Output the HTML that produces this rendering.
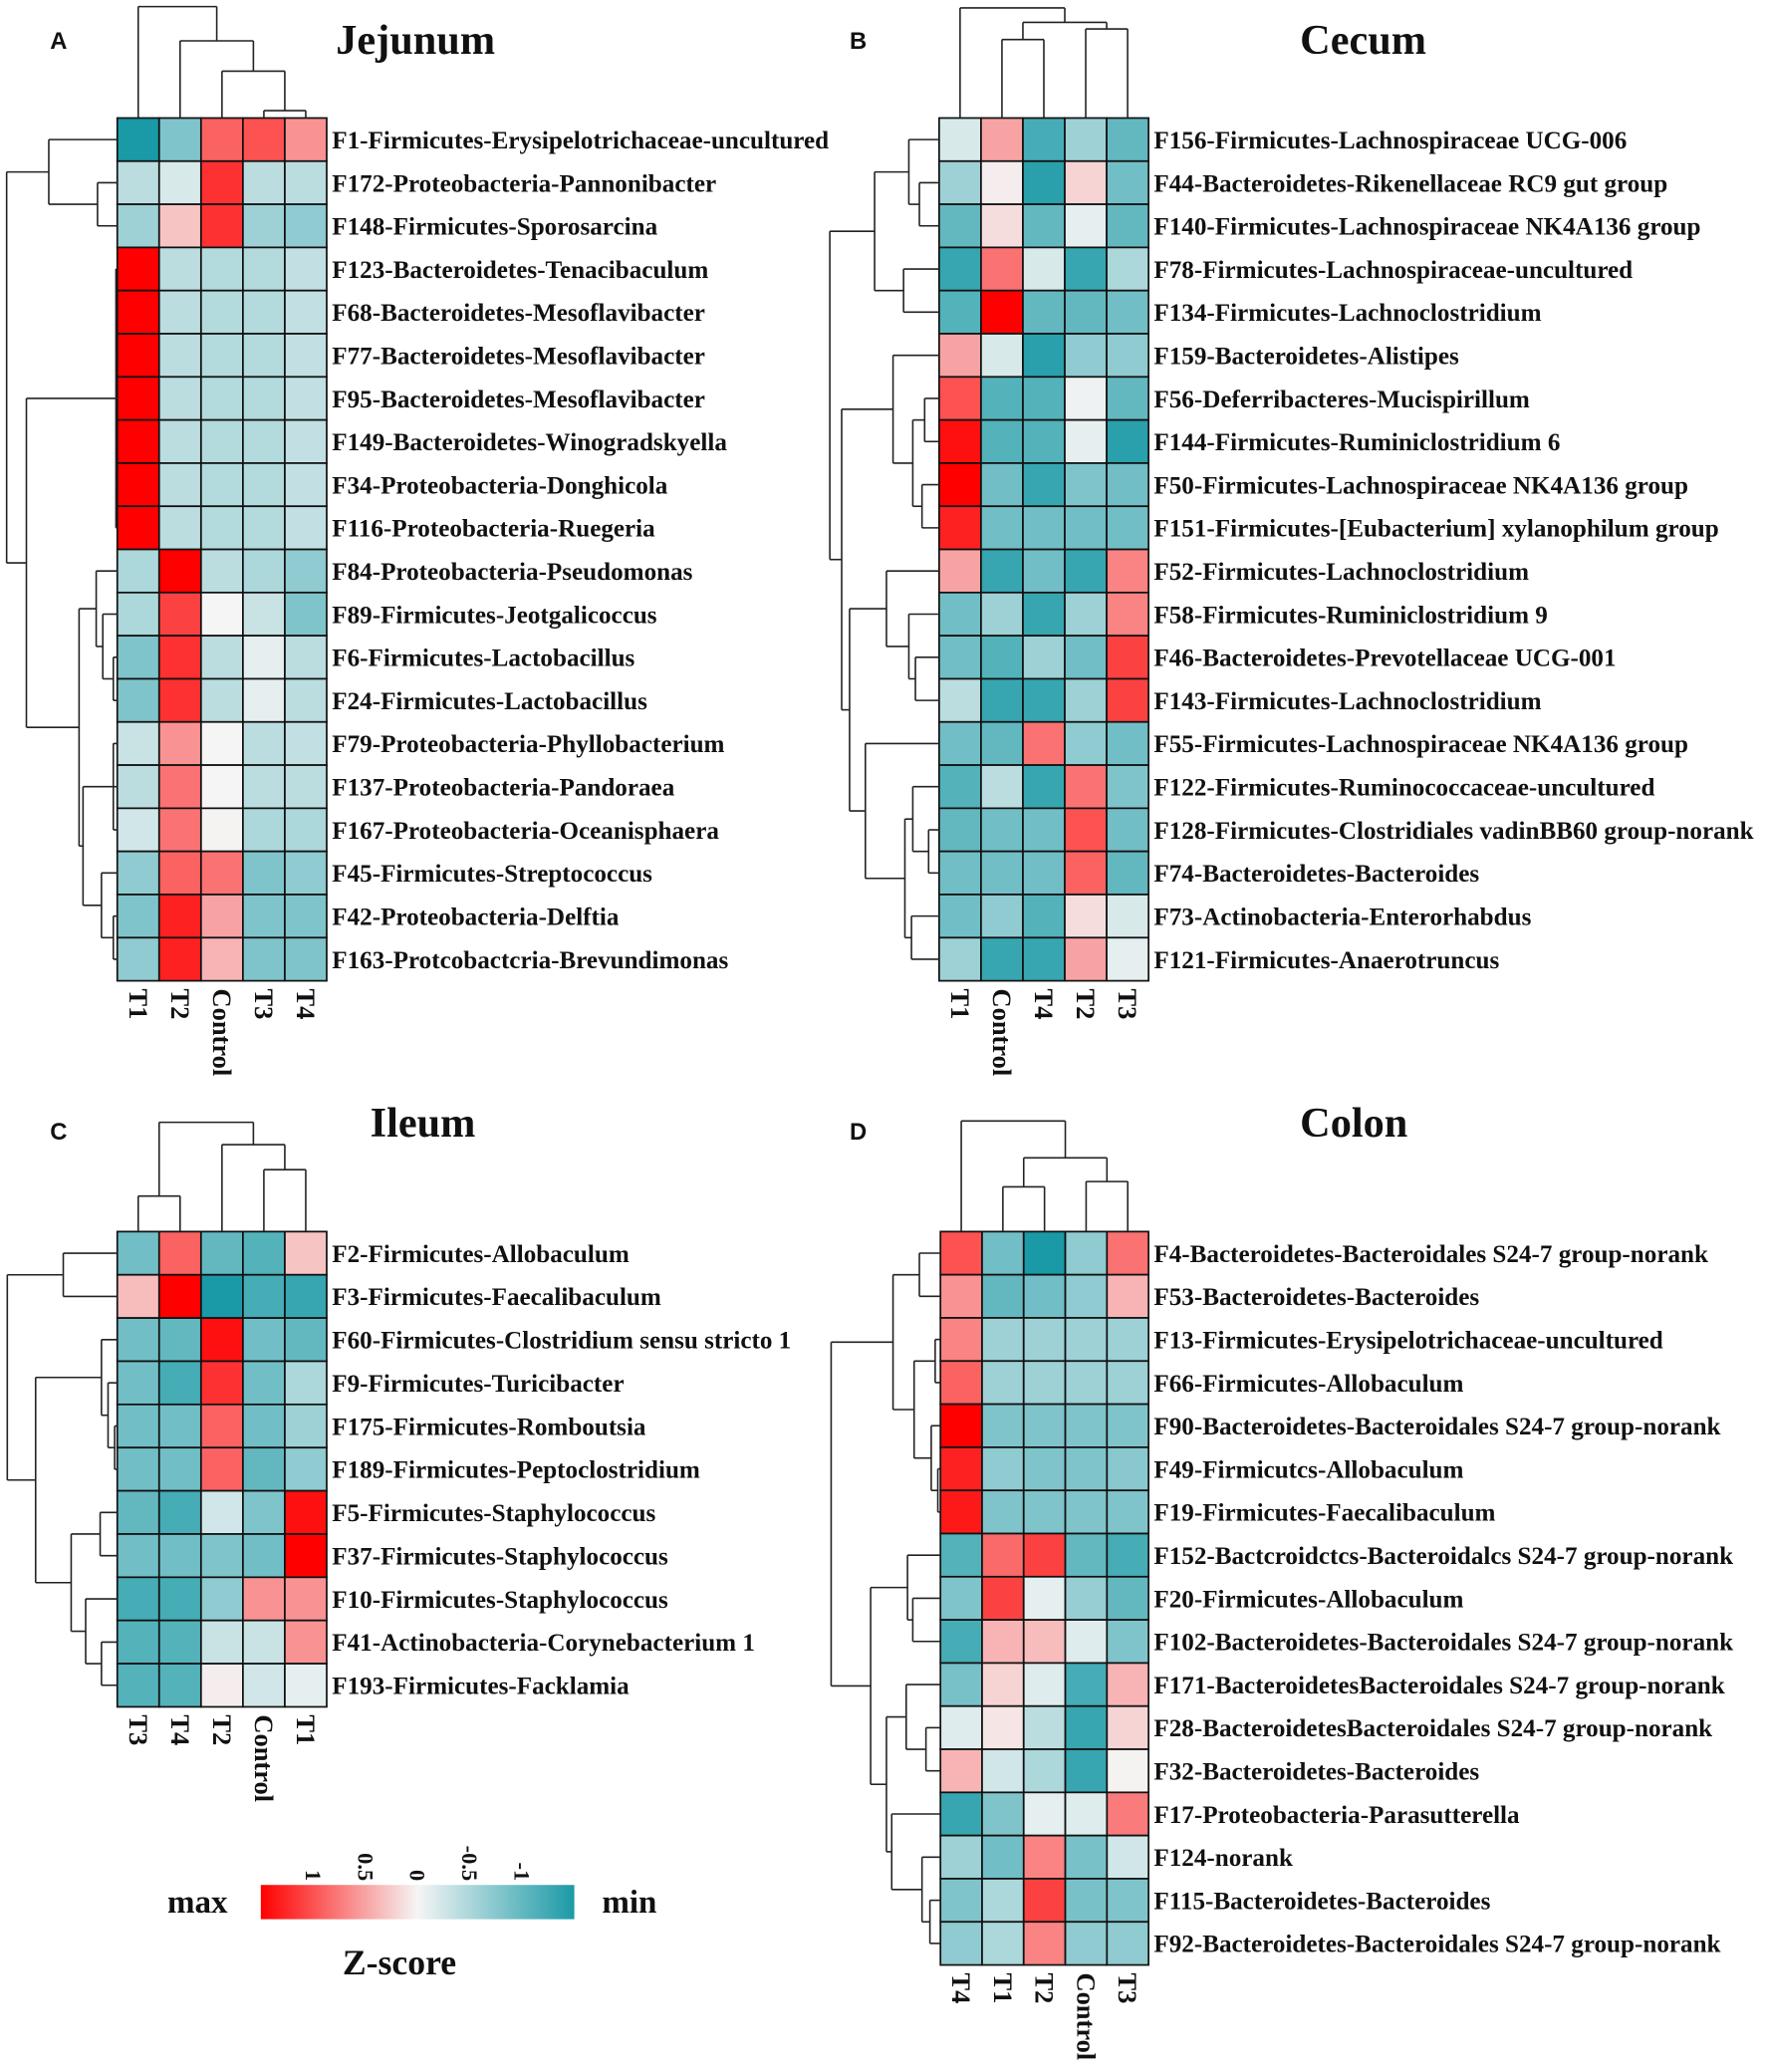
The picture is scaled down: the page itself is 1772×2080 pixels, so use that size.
<!DOCTYPE html>
<html><head><meta charset="utf-8"><style>
html,body{margin:0;padding:0;background:#fff;}
svg{display:block;}
text{font-family:"Liberation Serif",serif;font-weight:bold;fill:#111;}
.pl{font-family:"Liberation Sans",sans-serif;font-size:18px;}
</style></head><body>
<svg id="fig" width="1772" height="2080" viewBox="0 0 1340 1573" xmlns="http://www.w3.org/2000/svg">
<rect x="0" y="0" width="1340" height="1573" fill="#fff"/>
<defs><linearGradient id="zg" x1="0" x2="1" y1="0" y2="0">
<stop offset="0" stop-color="#ff0000"/><stop offset="0.5" stop-color="#f5f5f5"/><stop offset="1" stop-color="#1a9aa6"/></linearGradient></defs>
<text class="pl" x="38" y="37">A</text>
<text class="pl" x="645" y="37">B</text>
<text class="pl" x="38" y="865">C</text>
<text class="pl" x="645" y="865">D</text>
<text x="255" y="41" font-size="32">Jejunum</text>
<text x="987" y="41" font-size="32">Cecum</text>
<text x="281" y="863" font-size="32">Ileum</text>
<text x="987" y="863" font-size="32">Colon</text>
<g>
<rect x="198" y="1431" width="238" height="26" fill="url(#zg)"/>
<text x="127" y="1452" font-size="25">max</text>
<text x="457" y="1452" font-size="25">min</text>
<text x="260" y="1499" font-size="27">Z-score</text>
<g id="legticks"></g>
</g>
<g id="panels"></g>
</svg>
<script>
// ---- Panel A: Jejunum ----
const colsA = ["T1","T2","Control","T3","T4"];
const rowsA = ["F1-Firmicutes-Erysipelotrichaceae-uncultured","F172-Proteobacteria-Pannonibacter","F148-Firmicutes-Sporosarcina","F123-Bacteroidetes-Tenacibaculum","F68-Bacteroidetes-Mesoflavibacter","F77-Bacteroidetes-Mesoflavibacter","F95-Bacteroidetes-Mesoflavibacter","F149-Bacteroidetes-Winogradskyella","F34-Proteobacteria-Donghicola","F116-Proteobacteria-Ruegeria","F84-Proteobacteria-Pseudomonas","F89-Firmicutes-Jeotgalicoccus","F6-Firmicutes-Lactobacillus","F24-Firmicutes-Lactobacillus","F79-Proteobacteria-Phyllobacterium","F137-Proteobacteria-Pandoraea","F167-Proteobacteria-Oceanisphaera","F45-Firmicutes-Streptococcus","F42-Proteobacteria-Delftia","F163-Protcobactcria-Brevundimonas"];
const valsA = [
[-1.6,-0.8,0.9,1.0,0.6],[-0.4,-0.2,1.2,-0.4,-0.4],[-0.6,0.3,1.2,-0.6,-0.7],
[1.5,-0.4,-0.45,-0.45,-0.35],[1.5,-0.4,-0.45,-0.45,-0.35],[1.5,-0.4,-0.45,-0.45,-0.35],[1.5,-0.4,-0.45,-0.45,-0.35],[1.5,-0.4,-0.45,-0.45,-0.35],[1.5,-0.4,-0.45,-0.45,-0.35],[1.5,-0.4,-0.45,-0.45,-0.35],
[-0.5,1.5,-0.4,-0.5,-0.7],[-0.5,1.1,0,-0.3,-0.8],[-0.8,1.2,-0.4,-0.1,-0.4],[-0.8,1.2,-0.4,-0.1,-0.4],
[-0.3,0.6,0,-0.4,-0.35],[-0.4,0.8,0,-0.4,-0.4],[-0.25,0.8,0.02,-0.5,-0.5],
[-0.7,0.9,0.8,-0.8,-0.7],[-0.8,1.3,0.5,-0.8,-0.8],[-0.7,1.3,0.4,-0.8,-0.8]];
// ---- Panel B: Cecum ----
const colsB = ["T1","Control","T4","T2","T3"];
const rowsB = ["F156-Firmicutes-Lachnospiraceae UCG-006","F44-Bacteroidetes-Rikenellaceae RC9 gut group","F140-Firmicutes-Lachnospiraceae NK4A136 group","F78-Firmicutes-Lachnospiraceae-uncultured","F134-Firmicutes-Lachnoclostridium","F159-Bacteroidetes-Alistipes","F56-Deferribacteres-Mucispirillum","F144-Firmicutes-Ruminiclostridium 6","F50-Firmicutes-Lachnospiraceae NK4A136 group","F151-Firmicutes-[Eubacterium] xylanophilum group","F52-Firmicutes-Lachnoclostridium","F58-Firmicutes-Ruminiclostridium 9","F46-Bacteroidetes-Prevotellaceae UCG-001","F143-Firmicutes-Lachnoclostridium","F55-Firmicutes-Lachnospiraceae NK4A136 group","F122-Firmicutes-Ruminococcaceae-uncultured","F128-Firmicutes-Clostridiales vadinBB60 group-norank","F74-Bacteroidetes-Bacteroides","F73-Actinobacteria-Enterorhabdus","F121-Firmicutes-Anaerotruncus"];
const valsB = [
[-0.2,0.5,-1.2,-0.6,-1.0],[-0.6,0.05,-1.4,0.2,-0.9],[-1.0,0.15,-1.0,-0.1,-1.0],[-1.3,0.8,-0.2,-1.3,-0.5],[-1.1,1.5,-1.0,-1.0,-0.9],
[0.5,-0.2,-1.4,-0.7,-0.7],[1.0,-1.1,-1.1,-0.05,-1.0],[1.4,-1.1,-1.1,-0.1,-1.4],[1.5,-0.9,-1.3,-0.8,-0.9],[1.3,-0.9,-0.9,-0.9,-0.9],
[0.5,-1.3,-0.9,-1.3,0.7],[-0.9,-0.6,-1.3,-0.6,0.7],[-0.9,-1.1,-0.6,-0.9,1.1],[-0.4,-1.3,-1.3,-0.6,1.1],
[-0.9,-1.0,0.8,-0.7,-0.9],[-1.1,-0.4,-1.3,0.8,-0.8],[-1.0,-0.9,-0.9,1.0,-0.9],[-0.9,-0.9,-0.9,0.9,-1.0],[-0.9,-0.7,-1.1,0.15,-0.2],[-0.6,-1.3,-1.3,0.5,-0.1]];
// ---- Panel C: Ileum ----
const colsC = ["T3","T4","T2","Control","T1"];
const rowsC = ["F2-Firmicutes-Allobaculum","F3-Firmicutes-Faecalibaculum","F60-Firmicutes-Clostridium sensu stricto 1","F9-Firmicutes-Turicibacter","F175-Firmicutes-Romboutsia","F189-Firmicutes-Peptoclostridium","F5-Firmicutes-Staphylococcus","F37-Firmicutes-Staphylococcus","F10-Firmicutes-Staphylococcus","F41-Actinobacteria-Corynebacterium 1","F193-Firmicutes-Facklamia"];
const valsC = [
[-0.9,0.9,-1.0,-1.1,0.3],[0.35,1.5,-1.5,-1.2,-1.3],[-0.9,-1.0,1.4,-0.9,-1.0],[-0.9,-1.2,1.2,-0.9,-0.5],[-0.9,-0.9,0.9,-0.9,-0.6],[-0.9,-0.9,0.9,-1.0,-0.7],
[-1.0,-1.2,-0.25,-0.8,1.4],[-0.9,-0.9,-0.8,-0.9,1.5],[-1.2,-1.2,-0.7,0.6,0.6],[-1.1,-1.1,-0.3,-0.3,0.6],[-1.1,-1.1,0.05,-0.25,-0.1]];
// ---- Panel D: Colon ----
const colsD = ["T4","T1","T2","Control","T3"];
const rowsD = ["F4-Bacteroidetes-Bacteroidales S24-7 group-norank","F53-Bacteroidetes-Bacteroides","F13-Firmicutes-Erysipelotrichaceae-uncultured","F66-Firmicutes-Allobaculum","F90-Bacteroidetes-Bacteroidales S24-7 group-norank","F49-Firmicutcs-Allobaculum","F19-Firmicutes-Faecalibaculum","F152-Bactcroidctcs-Bacteroidalcs S24-7 group-norank","F20-Firmicutes-Allobaculum","F102-Bacteroidetes-Bacteroidales S24-7 group-norank","F171-BacteroidetesBacteroidales S24-7 group-norank","F28-BacteroidetesBacteroidales S24-7 group-norank","F32-Bacteroidetes-Bacteroides","F17-Proteobacteria-Parasutterella","F124-norank","F115-Bacteroidetes-Bacteroides","F92-Bacteroidetes-Bacteroidales S24-7 group-norank"];
const valsD = [
[1.0,-0.9,-1.5,-0.7,0.8],[0.6,-1.0,-0.9,-0.7,0.4],[0.7,-0.6,-0.6,-0.6,-0.6],[0.9,-0.6,-0.6,-0.6,-0.6],[1.5,-0.8,-0.8,-0.8,-0.8],[1.3,-0.7,-0.8,-0.8,-0.75],[1.35,-0.8,-0.8,-0.8,-0.8],
[-1.1,0.85,1.1,-1.0,-1.2],[-0.8,1.1,-0.1,-0.65,-1.0],[-1.2,0.4,0.35,-0.15,-0.8],
[-0.85,0.2,-0.15,-1.2,0.4],[-0.15,0.1,-0.4,-1.3,0.2],[0.4,-0.25,-0.5,-1.3,0.02],[-1.3,-0.8,-0.1,-0.15,0.75],[-0.6,-0.9,0.7,-0.85,-0.25],[-0.8,-0.5,1.1,-0.85,-0.8],[-0.7,-0.5,0.7,-0.7,-0.7]];

const legendTicks = ["1","0.5","0","-0.5","-1"];
const legendTickVals = [1,0.5,0,-0.5,-1];

const NS = "http://www.w3.org/2000/svg";
function mk(tag, attrs, parent){ const e=document.createElementNS(NS,tag); for(const k in attrs) e.setAttribute(k,attrs[k]); parent.appendChild(e); return e; }
function lerp(a,b,t){return Math.round(a+(b-a)*t);}
function color(v){
  const t=Math.min(Math.abs(v)/1.5,1);
  const w=[245,245,245], r=[255,0,0], b=[26,154,166];
  const e=v>=0?r:b;
  return `rgb(${lerp(w[0],e[0],t)},${lerp(w[1],e[1],t)},${lerp(w[2],e[2],t)})`;
}
function legX(v){ return 198 + (1.5 - v)/3*238; }
const lt=document.getElementById('legticks');
legendTickVals.forEach((v,i)=>{
  const x=legX(v);
  const t=mk('text',{x:0,y:0,'font-size':17,transform:`translate(${x},${1428}) rotate(90)`,'text-anchor':'end','dominant-baseline':'central'},lt);
  
  
  t.textContent=legendTicks[i];
});

const panels=document.getElementById('panels');
function drawTree(g,node,leafPos,edge,orient){
  if(typeof node==='number') return [leafPos(node),edge];
  const h=node[0];
  const ps=node.slice(1).map(c=>drawTree(g,c,leafPos,edge,orient));
  const lo=Math.min(...ps.map(p=>p[0])), hi=Math.max(...ps.map(p=>p[0]));
  ps.forEach(p=>{
    if(orient==='row') mk('line',{x1:p[1],y1:p[0],x2:h,y2:p[0]},g);
    else mk('line',{x1:p[0],y1:p[1],x2:p[0],y2:h},g);
  });
  if(orient==='row') mk('line',{x1:h,y1:lo,x2:h,y2:hi},g);
  else mk('line',{x1:lo,y1:h,x2:hi,y2:h},g);
  return [(lo+hi)/2,h];
}
function panel(id,x0,y0,cw,rh,cols,rows,vals,rowTree,colTree,labelX){
  const g=mk('g',{},panels);
  
  
  const colX=i=>x0+i*cw, rowY=j=>y0+j*rh;
  vals.forEach((r,j)=>r.forEach((v,i)=>{
    const c=mk('rect',{x:colX(i),y:rowY(j),width:cw,height:rh,fill:color(v),stroke:'#111','stroke-width':1.3},g);
    
    
  }));
  rows.forEach((r,j)=>{
    const t=mk('text',{x:labelX,y:rowY(j)+rh/2+1,'font-size':19,'dominant-baseline':'central'},g);
    
    
    t.textContent=r;
  });
  const bottom=rowY(rows.length);
  cols.forEach((c,i)=>{
    const t=mk('text',{x:0,y:0,'font-size':20,transform:`translate(${colX(i)+cw/2},${bottom+6}) rotate(90)`,'dominant-baseline':'central'},g);
    
    
    t.textContent=c;
  });
  const dg=mk('g',{stroke:'#222','stroke-width':1.2,fill:'none'},g);
  
  
  drawTree(dg,rowTree,j=>rowY(j)+rh/2,x0,'row');
  const cg=mk('g',{stroke:'#222','stroke-width':1.2,fill:'none'},g);
  
  
  drawTree(cg,colTree,i=>colX(i)+cw/2,y0,'col');
}
const treeRowA=[5,[37,0,[74,1,2]],[20,[88,3,4,5,6,7,8,9],[60,[73,10,[78,11,[86,12,13]]],[63,[86,14,15,16],[77,17,[86,18,19]]]]]];
const treeColA=[5,0,[31,1,[54,2,[84,3,4]]]];
const treeRowB=[630,[664,[690,0,[698,1,2]],[686,3,4]],[639,[678,5,[693,[702,6,7],[700,8,9]]],[645,[673,10,[690,11,[695,12,13]]],[657,14,[687,[693,15,[705,16,17]],[692,18,19]]]]]];
const treeColB=[6,0,[17,[30,1,2],[22,3,4]]];
const treeRowC=[5.5,[48,0,1],[27,[77,2,[82,3,[87,4,5]]],[54,[76,6,7],[65,8,[77,9,10]]]]];
const treeColC=[852,[908,0,1],[869,2,[888,3,4]]];
const treeRowD=[631,[678,[698,0,1],[694,[710,2,3],[707,4,[712,5,6]]]],[661,[689,7,[693,8,9]],[673,[688,10,[703,11,12]],[677,13,[700,14,[706,15,16]]]]]];
const treeColD=[851,0,[879,[901,1,2],[897,3,4]]];
panel('jejunum',89,89.6,31.8,32.75,colsA,rowsA,valsA,treeRowA,treeColA,252);
panel('cecum',713,89.6,31.8,32.75,colsB,rowsB,valsB,treeRowB,treeColB,876);
panel('ileum',89,935,31.8,32.8,colsC,rowsC,valsC,treeRowC,treeColC,252);
panel('colon',714,935,31.6,32.75,colsD,rowsD,valsD,treeRowD,treeColD,876);
</script>
</body></html>
